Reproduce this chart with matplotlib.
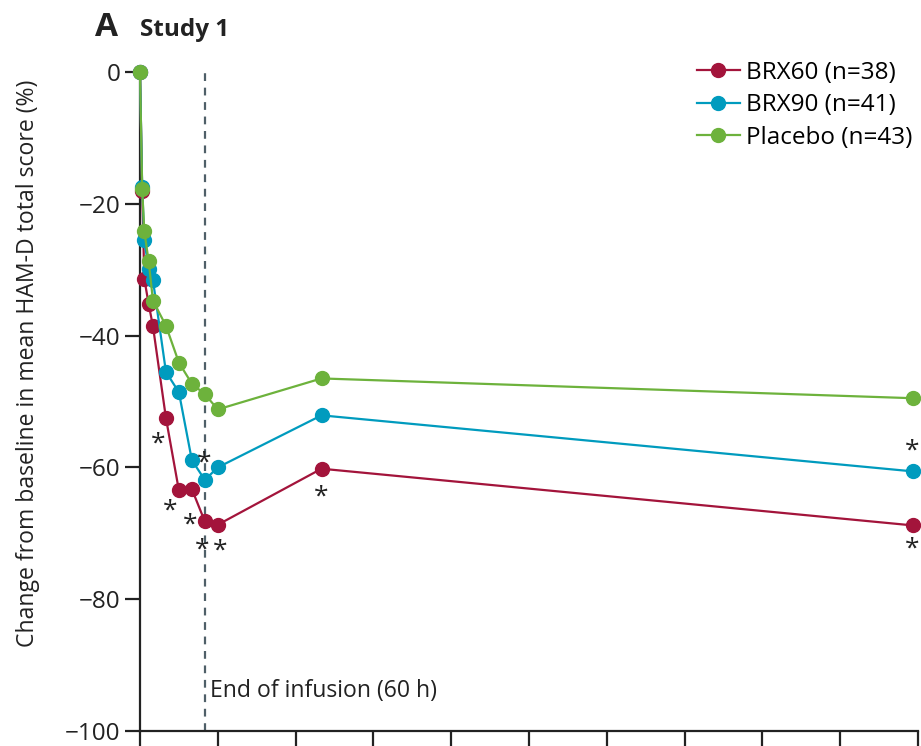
import numpy as np
import matplotlib.pyplot as plt

# time after start of infusion (h)
hours = [0, 2, 4, 8, 12, 24, 36, 48, 60, 72, 168, 715]

# change from baseline in mean HAM-D total score (%)
brx60 = [0, -18.0, -31.4, -35.2, -38.6, -52.5, -63.5, -63.3, -68.2, -68.7, -60.2, -68.8]
brx90 = [0, -17.4, -25.5, -29.9, -31.6, -45.5, -48.6, -58.9, -61.9, -60.0, -52.1, -60.6]
placebo = [0, -17.8, -24.2, -28.7, -34.7, -38.5, -44.1, -47.3, -48.9, -51.2, -46.5, -49.5]

labels = ["BRX60 (n=38)", "BRX90 (n=41)", "Placebo (n=43)"]
colors = ["#A3143B", "#009BBE", "#6DB23C"]

# significance marks: (series index, point index, dx px, dy px)
stars = [(0, 5, -8, -22), (0, 6, -9, -17), (0, 7, -2, -32),
         (0, 8, -3, -25), (0, 9, 2, -22), (0, 10, 0, -24), (0, 11, 0, -20),
         (1, 8, -1, 21), (1, 11, 0, 24)]

plt.rcParams['font.family'] = ['Open Sans', 'DejaVu Sans']
ink = '#222222'

fig = plt.figure(figsize=(9.21, 7.46), dpi=100)
ax = fig.add_axes([140 / 921, 15 / 746, 778 / 921, 659 / 746])

series = [brx60, brx90, placebo]
for vals, lab, c in zip(series, labels, colors):
    ax.plot(hours, vals, color=c, lw=1.6, marker='o', ms=10, label=lab,
            clip_on=False, zorder=3)

for s, i, dx, dy in stars:
    ax.annotate('*', xy=(hours[i], series[s][i]), xytext=(dx, dy - 4),
                textcoords='offset pixels', ha='center', va='center',
                fontsize=19, color=ink)

ax.axvline(60, color='#4F5F68', lw=1.6, ls=(0, (3.5, 3)), zorder=1)
ax.text(65, -94, 'End of infusion (60 h)', fontsize=16.6, color=ink,
        va='center', ha='left')

ax.set_xlim(0, 720)
ax.set_ylim(-100, 0)
ax.set_xticks(np.arange(0, 721, 72))
ax.set_xticklabels([])
ax.set_yticks(np.arange(-100, 1, 20))
ax.set_yticklabels(['\u2212100', '\u221280', '\u221260', '\u221240', '\u221220', '0'])
ax.tick_params(axis='both', length=11, width=1.6, color=ink,
               labelsize=17.5, labelcolor=ink, pad=3)
for side in ['top', 'right']:
    ax.spines[side].set_visible(False)
for side in ['left', 'bottom']:
    ax.spines[side].set_linewidth(1.6)
    ax.spines[side].set_color(ink)

ax.set_ylabel('Change from baseline in mean HAM-D total score (%)',
              fontsize=16.6, color=ink)
ax.yaxis.set_label_coords(-0.128, 0.558)

fig.text(95 / 921, 1 - 28 / 746, 'A', fontsize=24, fontweight='bold',
         va='center', color=ink)
fig.text(140 / 921, 1 - 30 / 746, 'Study 1', fontsize=17.5, fontweight='bold',
         va='center', color=ink)

ax.legend(loc='upper right', bbox_to_anchor=(1.005, 1.032), frameon=False,
          fontsize=17.5, handlelength=1.75, handletextpad=0.25, labelspacing=0.35,
          borderaxespad=0)

fig.savefig('out.png', dpi=100)
